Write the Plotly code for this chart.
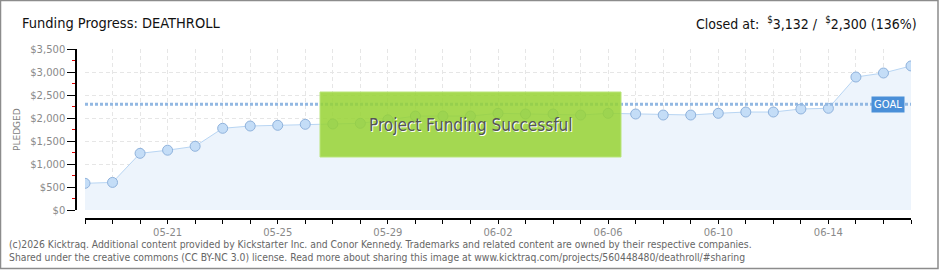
import plotly.graph_objects as go
import pandas as pd

# ---- data ----
dates = pd.date_range("2025-05-18", "2025-06-17", freq="D").strftime("%Y-%m-%d").tolist()
pledged = [580, 600, 1232, 1300, 1385, 1776, 1826, 1841, 1863, 1870, 1885, 1960,
           2043, 2043, 2043, 2102, 2087, 2087, 2065, 2102, 2087, 2065, 2065, 2102,
           2130, 2130, 2196, 2211, 2891, 2978, 3132]
goal = 2300
closed_total = 3132
project_name = "DEATHROLL"
y_ticks = [0, 500, 1000, 1500, 2000, 2500, 3000, 3500]
y_tick_labels = [f"${v:,}" for v in y_ticks]
footer_lines = [
    "(c)2026 Kicktraq. Additional content provided by Kickstarter Inc. and Conor Kennedy. Trademarks and related content are owned by their respective companies.",
    "Shared under the creative commons (CC BY-NC 3.0) license. Read more about sharing this image at www.kicktraq.com/projects/560448480/deathroll/#sharing",
]

W, H = 940, 270
L, R, T, B = 76, 29, 49, 51
PW = W - L - R
PH = H - T - B


def px(x):
    return (x - L) / PW


def py(y):
    return (H - B - y) / PH


NARROW = "DejaVu Sans Condensed, DejaVu Sans, sans-serif"


def nfont(size, color):
    return dict(family=NARROW, size=size, color=color)


fig = go.Figure()
fig.add_trace(go.Scatter(
    x=dates, y=pledged, mode="lines+markers",
    line=dict(color="#b8d5f3", width=1),
    fill="tozeroy", fillcolor="#edf4fc",
    marker=dict(size=10, color="#c4ddf7", line=dict(color="#8fb2dc", width=1)),
    hoverinfo="x+y", showlegend=False,
))

pct = round(closed_total / goal * 100)

fig.update_layout(
    width=W, height=H,
    margin=dict(l=L, r=R, t=T, b=B),
    paper_bgcolor="white", plot_bgcolor="white",
    xaxis=dict(
        domain=[9 / PW, 1], anchor="free", position=0,
        range=[dates[0], dates[-1]], type="date",
        tick0="2025-05-21", dtick=4 * 86400000, tickformat="%m-%d",
        ticks="outside", ticklen=4, tickcolor="black", tickwidth=1,
        showline=True, linecolor="black", linewidth=1.5,
        showgrid=True, gridcolor="#e6e6e6", griddash="4px,3px", gridwidth=1,
        zeroline=False,
        tickfont=dict(family="DejaVu Sans", size=10, color="#8a8a8a"),
        minor=dict(dtick=86400000, ticks="outside", ticklen=4, tickcolor="black",
                   showgrid=True, gridcolor="#e6e6e6", griddash="4px,3px"),
    ),
    yaxis=dict(
        domain=[9 / PH, 1], anchor="free", position=0,
        range=[0, 3500], tickmode="array", tickvals=y_ticks, ticktext=y_tick_labels,
        ticks="outside", ticklen=8, tickcolor="black",
        showline=True, linecolor="black", linewidth=1.5,
        showgrid=True, gridcolor="#e6e6e6", griddash="4px,3px",
        zeroline=False,
        tickfont=dict(family="DejaVu Sans", size=10, color="#8a8a8a"),
        minor=dict(dtick=250, ticks="outside", ticklen=3, tickcolor="#e00000", showgrid=False),
    ),
    shapes=[
        # goal line
        dict(type="line", xref="x domain", yref="y", x0=0, x1=1, y0=goal, y1=goal,
             line=dict(color="#92b8e2", width=3, dash="3px,2px")),
        # success banner
        dict(type="rect", xref="x domain", yref="y domain",
             x0=(320 - 85) / 826, x1=(621 - 85) / 826,
             y0=(210 - 157) / 161, y1=(210 - 92) / 161,
             fillcolor="rgba(150,210,50,0.85)", line=dict(color="#b9e57a", width=1)),
        # frame
        dict(type="rect", xref="paper", yref="paper",
             x0=px(0.5), x1=px(938), y0=py(268.5), y1=py(0.5),
             line=dict(color="#8c8c8c", width=1.5)),
    ],
    annotations=[
        dict(xref="paper", yref="paper", x=px(20), y=py(23), xanchor="left", yanchor="middle",
             text=f"Funding Progress: {project_name}", showarrow=False,
             font=nfont(14.5, "#111")),
        dict(xref="paper", yref="paper", x=px(919), y=py(23), xanchor="right", yanchor="middle",
             text=f"Closed at:  <sup>$</sup>{closed_total:,} /  <sup>$</sup>{goal:,} ({pct}%)",
             showarrow=False, font=nfont(14, "#111")),
        dict(xref="paper", yref="paper", x=px(17), y=py(130), textangle=-90,
             xanchor="center", yanchor="middle",
             text="PLEDGED", showarrow=False,
             font=dict(family="DejaVu Sans", size=9, color="#808080")),
        dict(xref="x domain", yref="y", x=(888 - 85) / 826, y=goal,
             xanchor="center", yanchor="middle",
             text="GOAL", showarrow=False, bgcolor="#4a8fd8", borderpad=2,
             font=dict(family="DejaVu Sans", size=10, color="white")),
        dict(xref="x domain", yref="y domain",
             x=(470.5 - 85) / 826, y=(210 - 125) / 161,
             xanchor="center", yanchor="middle",
             text="Project Funding Successful", showarrow=False,
             font=dict(family=NARROW, size=17, color="#555",
                       shadow="1px 1px 0px white")),
        dict(xref="paper", yref="paper", x=px(7), y=py(244), xanchor="left", yanchor="middle",
             text=footer_lines[0], showarrow=False, font=nfont(10.3, "#666")),
        dict(xref="paper", yref="paper", x=px(7), y=py(257), xanchor="left", yanchor="middle",
             text=footer_lines[1], showarrow=False, font=nfont(10.3, "#666")),
    ],
)

fig.write_html("out.html")
